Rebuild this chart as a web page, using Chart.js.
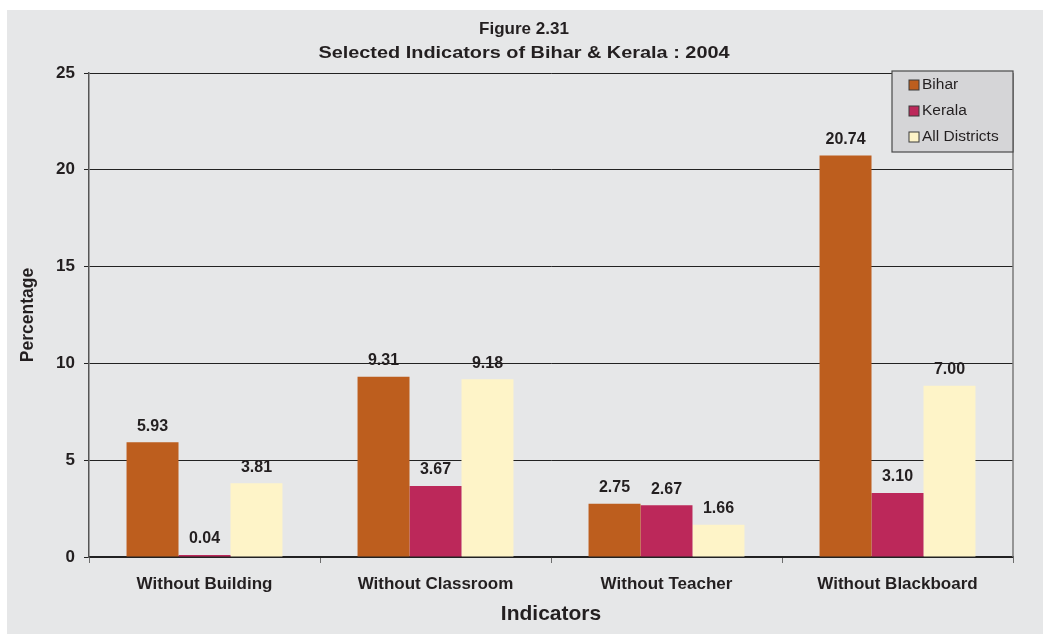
<!DOCTYPE html>
<html>
<head>
<meta charset="utf-8">
<script src="https://cdn.jsdelivr.net/npm/chart.js@4.4.1/dist/chart.umd.min.js"></script>
<style>
  html, body { margin: 0; padding: 0; background: #ffffff; }
  #wrap { width: 1043px; height: 634px; position: relative; }
</style>
</head>
<body>
<div id="wrap"><canvas id="c" width="1043" height="634"></canvas></div>
<script>
const categories = ["Without Building", "Without Classroom", "Without Teacher", "Without Blackboard"];
const seriesNames = ["Bihar", "Kerala", "All Districts"];
const biharValues = [5.93, 9.31, 2.75, 20.74];
const keralaValues = [0.1, 3.67, 2.67, 3.31];
const allDistrictsValues = [3.81, 9.18, 1.66, 8.85];
const biharLabels = ["5.93", "9.31", "2.75", "20.74"];
const keralaLabels = ["0.04", "3.67", "2.67", "3.10"];
const allDistrictsLabels = ["3.81", "9.18", "1.66", "7.00"];
const yTicks = [0, 5, 10, 15, 20, 25];
const titleLines = ["Figure 2.31", "Selected Indicators of Bihar & Kerala : 2004"];

const FONT = "'Liberation Sans', Arial, Helvetica, sans-serif";
const TEXT = "#231f20";
const colors = ["#bd5e1e", "#bc285a", "#fef4c8"];
const pointLabels = [biharLabels, keralaLabels, allDistrictsLabels];

const bgPlugin = {
  id: 'bg',
  beforeDraw(chart) {
    const ctx = chart.ctx;
    ctx.save();
    ctx.fillStyle = '#ffffff';
    ctx.fillRect(0, 0, chart.width, chart.height);
    ctx.fillStyle = '#e6e7e8';
    ctx.fillRect(7, 10, chart.width - 7, chart.height - 10);
    ctx.restore();
  },
  afterDraw(chart) {
    const ctx = chart.ctx;
    const a = chart.chartArea;
    ctx.save();
    // title
    ctx.fillStyle = TEXT;
    ctx.textAlign = 'center';
    ctx.textBaseline = 'middle';
    ctx.font = "bold 17px " + FONT;
    ctx.fillText(titleLines[0], 524, 29);
    ctx.save();
    ctx.translate(524, 53);
    ctx.scale(1.17, 1);
    ctx.fillText(titleLines[1], 0, 0);
    ctx.restore();
    // right border
    ctx.strokeStyle = '#7a7a7a';
    ctx.lineWidth = 1.5;
    ctx.beginPath();
    ctx.moveTo(a.right, a.top);
    ctx.lineTo(a.right, a.bottom);
    ctx.stroke();
    // data labels
    ctx.font = "bold 16px " + FONT;
    ctx.fillStyle = TEXT;
    chart.data.datasets.forEach((ds, di) => {
      const meta = chart.getDatasetMeta(di);
      meta.data.forEach((bar, i) => {
        ctx.fillText(pointLabels[di][i], bar.x, bar.y - 16);
      });
    });
    // legend
    const lx = 892, ly = 71, lw = 121, lh = 81;
    ctx.fillStyle = '#d5d5d7';
    ctx.fillRect(lx, ly, lw, lh);
    ctx.strokeStyle = '#4a4a4a';
    ctx.lineWidth = 1.2;
    ctx.strokeRect(lx, ly, lw, lh);
    ctx.font = "15.5px " + FONT;
    ctx.textAlign = 'left';
    chart.data.datasets.forEach((ds, di) => {
      const y = ly + 14 + di * 26;
      ctx.fillStyle = ds.backgroundColor;
      ctx.fillRect(lx + 17, y - 5, 10, 10);
      ctx.strokeStyle = '#3a3a3a';
      ctx.lineWidth = 1;
      ctx.strokeRect(lx + 17, y - 5, 10, 10);
      ctx.fillStyle = TEXT;
      ctx.fillText(ds.label, lx + 30, y);
    });
    ctx.restore();
  }
};

new Chart(document.getElementById('c'), {
  type: 'bar',
  data: {
    labels: categories,
    datasets: [
      { label: seriesNames[0], data: biharValues, backgroundColor: colors[0] },
      { label: seriesNames[1], data: keralaValues, backgroundColor: colors[1] },
      { label: seriesNames[2], data: allDistrictsValues, backgroundColor: colors[2] }
    ]
  },
  options: {
    responsive: false,
    animation: false,
    devicePixelRatio: 1,
    layout: { padding: { left: 7, right: 30, top: 73, bottom: 0 } },
    datasets: { bar: { barPercentage: 1.0, categoryPercentage: 0.675 } },
    plugins: {
      legend: { display: false },
      title: { display: false },
      tooltip: { enabled: false }
    },
    scales: {
      x: {
        grid: { drawOnChartArea: false, drawTicks: true, tickLength: 6, color: '#6e6e6e', offset: true },
        border: { color: '#222222', width: 1.5 },
        ticks: { color: TEXT, font: { family: FONT, size: 17, weight: 'bold' }, padding: 11, maxRotation: 0 },
        title: { display: true, text: 'Indicators', color: TEXT, font: { family: FONT, size: 21, weight: 'bold' }, padding: { top: 0, bottom: 7 } },
        afterFit(scale) { scale.height = 77; }
      },
      y: {
        min: 0, max: 25,
        afterBuildTicks(scale) { scale.ticks = yTicks.map(v => ({ value: v })); },
        grid: { color: '#222222', lineWidth: 1, tickLength: 5, drawTicks: true },
        border: { color: '#555555', width: 1.5 },
        ticks: { color: TEXT, font: { family: FONT, size: 17, weight: 'bold' }, padding: 9 },
        title: { display: true, text: 'Percentage', color: TEXT, font: { family: FONT, size: 17.5, weight: 'bold' }, padding: { top: 11, bottom: 0 } },
        afterFit(scale) { scale.width = 82; }
      }
    }
  },
  plugins: [bgPlugin]
});
</script>
</body>
</html>
